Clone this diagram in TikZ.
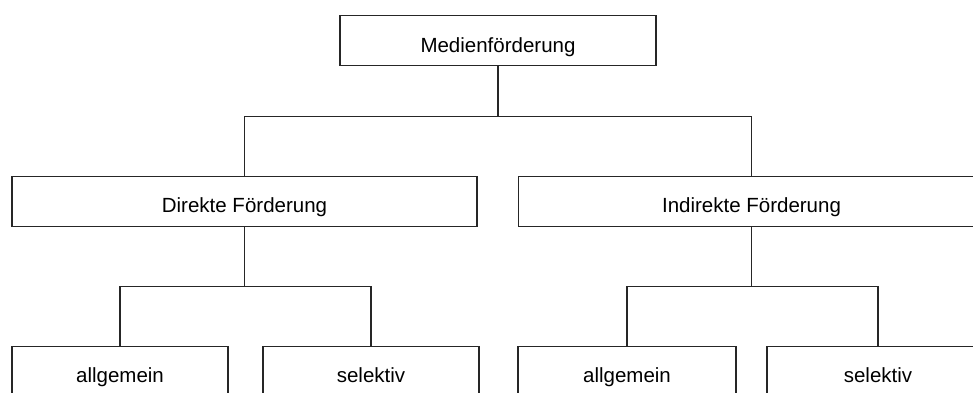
\documentclass[tikz,border=0pt]{standalone}
\usepackage{fontspec}
\setmainfont{Liberation Sans}
\usepackage{tikz}
\usetikzlibrary{positioning}

\begin{document}
\begin{tikzpicture}[x=1pt,y=-1pt,
  box/.style={draw=black!85, line width=1.3pt, fill=white, anchor=north, inner sep=0pt,
    text height=36.5pt, text depth=13.5pt, font=\fontsize{20.5}{24}\selectfont},
  link/.style={draw=black!85, line width=1.3pt}]
\useasboundingbox (0,0) rectangle (973,392);
\clip (0,0) rectangle (973,392);
\node[box, minimum width=316pt] (medien) at (498,15) {Medienförderung};
\node[box, minimum width=465pt] (direkt) at (244.5,175.5) {Direkte Förderung};
\node[box, minimum width=466pt] (indirekt) at (751.5,175.5) {Indirekte Förderung};
\node[box, minimum width=216pt] (dallg) at (120,345.5) {allgemein};
\node[box, minimum width=216pt] (dsel) at (371,345.5) {selektiv};
\node[box, minimum width=218pt] (iallg) at (627,345.5) {allgemein};
\node[box, minimum width=222pt] (isel) at (878,345.5) {selektiv};
\draw[link] (medien.south) -- ++(0,50) -| (direkt.north);
\draw[link] (medien.south) -- ++(0,50) -| (indirekt.north);
\draw[link] (direkt.south) -- ++(0,60) -| (dallg.north);
\draw[link] (direkt.south) -- ++(0,60) -| (dsel.north);
\draw[link] (indirekt.south) -- ++(0,60) -| (iallg.north);
\draw[link] (indirekt.south) -- ++(0,60) -| (isel.north);
\end{tikzpicture}
\end{document}
